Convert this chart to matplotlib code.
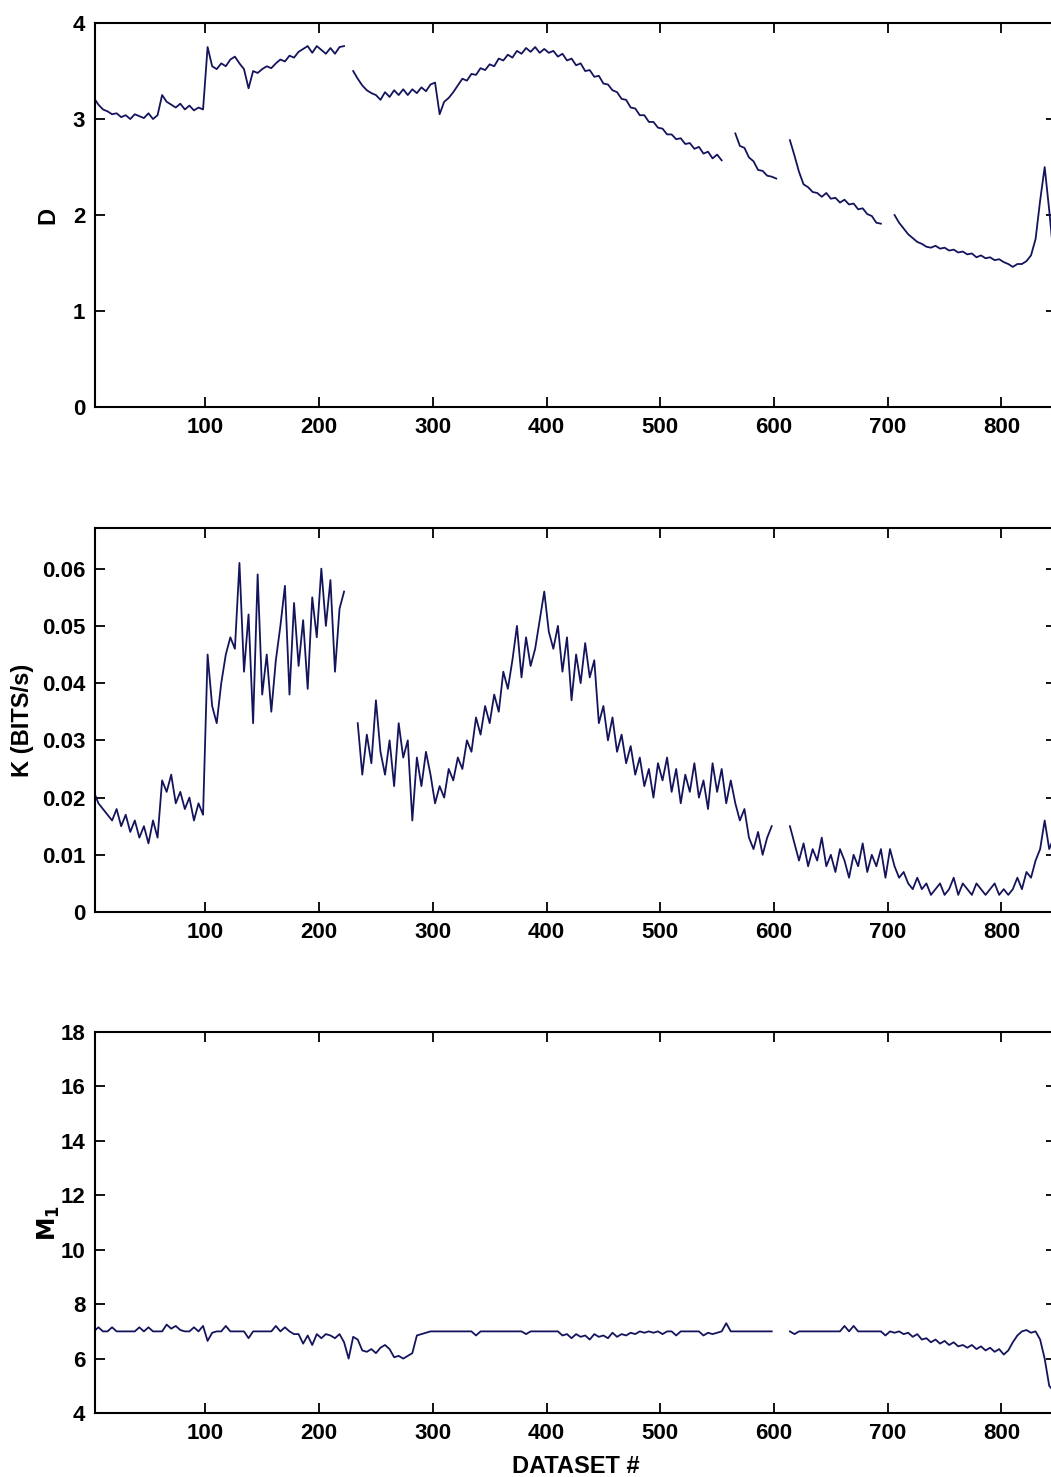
import numpy as np
import matplotlib
matplotlib.use("Agg")
import matplotlib.pyplot as plt

# dataset number, sampled every 4 datasets
dataset = np.arange(2, 851, 4)
nan = np.nan

# fractal dimension D
d_vals = [
    3.22, 3.15, 3.10, 3.08, 3.05, 3.06, 3.02, 3.04, 3.00, 3.05,
    3.03, 3.01, 3.06, 3.00, 3.04, 3.25, 3.18, 3.15, 3.12, 3.16,
    3.10, 3.14, 3.09, 3.12, 3.10, 3.75, 3.55, 3.52, 3.58, 3.55,
    3.62, 3.65, 3.58, 3.52, 3.32, 3.50, 3.48, 3.52, 3.55, 3.53,
    3.58, 3.62, 3.60, 3.66, 3.64, 3.70, 3.73, 3.76, 3.69, 3.76,
    3.72, 3.68, 3.74, 3.68, 3.75, 3.76, nan, 3.50, 3.42, 3.35,
    3.30, 3.27, 3.25, 3.20, 3.28, 3.23, 3.30, 3.25, 3.31, 3.25,
    3.31, 3.27, 3.33, 3.29, 3.36, 3.38, 3.05, 3.18, 3.22, 3.28,
    3.35, 3.42, 3.40, 3.47, 3.46, 3.53, 3.51, 3.57, 3.55, 3.63,
    3.61, 3.67, 3.64, 3.71, 3.68, 3.74, 3.70, 3.75, 3.69, 3.73,
    3.69, 3.71, 3.65, 3.68, 3.61, 3.63, 3.56, 3.58, 3.50, 3.51,
    3.44, 3.45, 3.37, 3.36, 3.30, 3.28, 3.21, 3.20, 3.12, 3.11,
    3.04, 3.04, 2.97, 2.97, 2.91, 2.90, 2.84, 2.84, 2.79, 2.80,
    2.74, 2.75, 2.69, 2.71, 2.64, 2.66, 2.59, 2.63, 2.57, nan,
    nan, 2.85, 2.72, 2.70, 2.60, 2.56, 2.47, 2.46, 2.41, 2.40,
    2.38, nan, nan, 2.78, 2.62, 2.45, 2.32, 2.29, 2.24, 2.23,
    2.19, 2.23, 2.17, 2.18, 2.13, 2.16, 2.11, 2.12, 2.06, 2.07,
    2.01, 1.99, 1.92, 1.91, nan, nan, 2.00, 1.92, 1.86, 1.80,
    1.76, 1.72, 1.70, 1.67, 1.66, 1.68, 1.65, 1.66, 1.63, 1.64,
    1.61, 1.62, 1.59, 1.60, 1.56, 1.58, 1.55, 1.56, 1.53, 1.54,
    1.51, 1.49, 1.46, 1.49, 1.49, 1.52, 1.58, 1.75, 2.15, 2.50,
    2.05, 1.55, 1.45,
]

# K (bits/s)
k_vals = [
    0.021, 0.019, 0.018, 0.017, 0.016, 0.018, 0.015, 0.017, 0.014, 0.016,
    0.013, 0.015, 0.012, 0.016, 0.013, 0.023, 0.021, 0.024, 0.019, 0.021,
    0.018, 0.020, 0.016, 0.019, 0.017, 0.045, 0.036, 0.033, 0.040, 0.045,
    0.048, 0.046, 0.061, 0.042, 0.052, 0.033, 0.059, 0.038, 0.045, 0.035,
    0.044, 0.050, 0.057, 0.038, 0.054, 0.043, 0.051, 0.039, 0.055, 0.048,
    0.060, 0.050, 0.058, 0.042, 0.053, 0.056, nan, nan, 0.033, 0.024,
    0.031, 0.026, 0.037, 0.028, 0.024, 0.030, 0.022, 0.033, 0.027, 0.030,
    0.016, 0.027, 0.022, 0.028, 0.024, 0.019, 0.022, 0.020, 0.025, 0.023,
    0.027, 0.025, 0.030, 0.028, 0.034, 0.031, 0.036, 0.033, 0.038, 0.035,
    0.042, 0.039, 0.044, 0.050, 0.041, 0.048, 0.043, 0.046, 0.051, 0.056,
    0.049, 0.046, 0.050, 0.042, 0.048, 0.037, 0.045, 0.040, 0.047, 0.041,
    0.044, 0.033, 0.036, 0.030, 0.034, 0.028, 0.031, 0.026, 0.029, 0.024,
    0.027, 0.022, 0.025, 0.020, 0.026, 0.023, 0.027, 0.021, 0.025, 0.019,
    0.024, 0.021, 0.026, 0.020, 0.023, 0.018, 0.026, 0.021, 0.025, 0.019,
    0.023, 0.019, 0.016, 0.018, 0.013, 0.011, 0.014, 0.010, 0.013, 0.015,
    nan, nan, nan, 0.015, 0.012, 0.009, 0.012, 0.008, 0.011, 0.009,
    0.013, 0.008, 0.010, 0.007, 0.011, 0.009, 0.006, 0.010, 0.008, 0.012,
    0.007, 0.010, 0.008, 0.011, 0.006, 0.011, 0.008, 0.006, 0.007, 0.005,
    0.004, 0.006, 0.004, 0.005, 0.003, 0.004, 0.005, 0.003, 0.004, 0.006,
    0.003, 0.005, 0.004, 0.003, 0.005, 0.004, 0.003, 0.004, 0.005, 0.003,
    0.004, 0.003, 0.004, 0.006, 0.004, 0.007, 0.006, 0.009, 0.011, 0.016,
    0.011, 0.013, 0.010,
]

# M1
m1_vals = [
    7.0, 7.15, 7.0, 7.0, 7.15, 7.0, 7.0, 7.0, 7.0, 7.0,
    7.15, 7.0, 7.15, 7.0, 7.0, 7.0, 7.25, 7.1, 7.2, 7.05,
    7.0, 7.0, 7.15, 7.0, 7.2, 6.65, 6.95, 7.0, 7.0, 7.2,
    7.0, 7.0, 7.0, 7.0, 6.75, 7.0, 7.0, 7.0, 7.0, 7.0,
    7.2, 7.0, 7.15, 7.0, 6.9, 6.9, 6.55, 6.85, 6.5, 6.9,
    6.75, 6.9, 6.85, 6.75, 6.9, 6.6, 6.0, 6.8, 6.7, 6.3,
    6.25, 6.35, 6.2, 6.4, 6.5, 6.35, 6.05, 6.1, 6.0, 6.1,
    6.2, 6.85, 6.9, 6.95, 7.0, 7.0, 7.0, 7.0, 7.0, 7.0,
    7.0, 7.0, 7.0, 7.0, 6.85, 7.0, 7.0, 7.0, 7.0, 7.0,
    7.0, 7.0, 7.0, 7.0, 7.0, 6.9, 7.0, 7.0, 7.0, 7.0,
    7.0, 7.0, 7.0, 6.85, 6.9, 6.75, 6.9, 6.8, 6.85, 6.7,
    6.9, 6.8, 6.85, 6.75, 6.95, 6.8, 6.9, 6.85, 6.95, 6.9,
    7.0, 6.95, 7.0, 6.95, 7.0, 6.9, 7.0, 7.0, 6.85, 7.0,
    7.0, 7.0, 7.0, 7.0, 6.85, 6.95, 6.9, 6.95, 7.0, 7.3,
    7.0, 7.0, 7.0, 7.0, 7.0, 7.0, 7.0, 7.0, 7.0, 7.0,
    nan, nan, nan, 7.0, 6.9, 7.0, 7.0, 7.0, 7.0, 7.0,
    7.0, 7.0, 7.0, 7.0, 7.0, 7.2, 7.0, 7.2, 7.0, 7.0,
    7.0, 7.0, 7.0, 7.0, 6.85, 7.0, 6.95, 7.0, 6.9, 6.95,
    6.8, 6.9, 6.7, 6.75, 6.6, 6.7, 6.55, 6.65, 6.5, 6.6,
    6.45, 6.5, 6.4, 6.5, 6.35, 6.45, 6.3, 6.4, 6.25, 6.35,
    6.15, 6.3, 6.6, 6.85, 7.0, 7.05, 6.95, 7.0, 6.7, 6.0,
    5.0, 4.8, 4.8,
]

x_ticks = [100, 200, 300, 400, 500, 600, 700, 800]
d_ticks = [0, 1, 2, 3, 4]
k_ticks = [0, 0.01, 0.02, 0.03, 0.04, 0.05, 0.06]
k_ticklabels = ['0', '0.01', '0.02', '0.03', '0.04', '0.05', '0.06']
m_ticks = [4, 6, 8, 10, 12, 14, 16, 18]

LINE_COLOR = '#14145c'
FONT = dict(family='Liberation Sans', weight='bold', size=17)

plt.rcParams['font.family'] = 'Liberation Sans'
plt.rcParams['font.weight'] = 'bold'

fig = plt.figure(figsize=(10.51, 14.77), dpi=100)

left, width = 0.0904, 0.9144
axes_boxes = [
    [left, 0.7244, width, 0.2600],
    [left, 0.3825, width, 0.2600],
    [left, 0.0433, width, 0.2580],
]

panels = [
    (d_vals, (0, 4), d_ticks, None, 'D', -0.037),
    (k_vals, (0, 0.0671), k_ticks, k_ticklabels, 'K (BITS/s)', -0.064),
    (m1_vals, (4, 18), m_ticks, None, r'$\mathbf{M_1}$', -0.034),
]

for box, (vals, ylim, yt, ytl, ylab, lab_x) in zip(axes_boxes, panels):
    ax = fig.add_axes(box)
    ax.plot(dataset, vals, color=LINE_COLOR, linewidth=1.3)
    ax.set_xlim(3, 848)
    ax.set_ylim(*ylim)
    ax.set_xticks(x_ticks)
    ax.set_yticks(yt)
    if ytl is not None:
        ax.set_yticklabels(ytl)
    ax.tick_params(direction='in', length=7, width=1.3, top=True, right=True,
                   labelsize=16, pad=7)
    for lab in ax.get_xticklabels() + ax.get_yticklabels():
        lab.set_fontweight('bold')
    for sp in ax.spines.values():
        sp.set_linewidth(1.5)
    ax.set_ylabel(ylab, fontdict=FONT)
    ax.yaxis.set_label_coords(lab_x, 0.5)
    last_ax = ax

last_ax.set_xlabel('DATASET #', fontdict=FONT, labelpad=8)

fig.savefig('out.png', dpi=100)
